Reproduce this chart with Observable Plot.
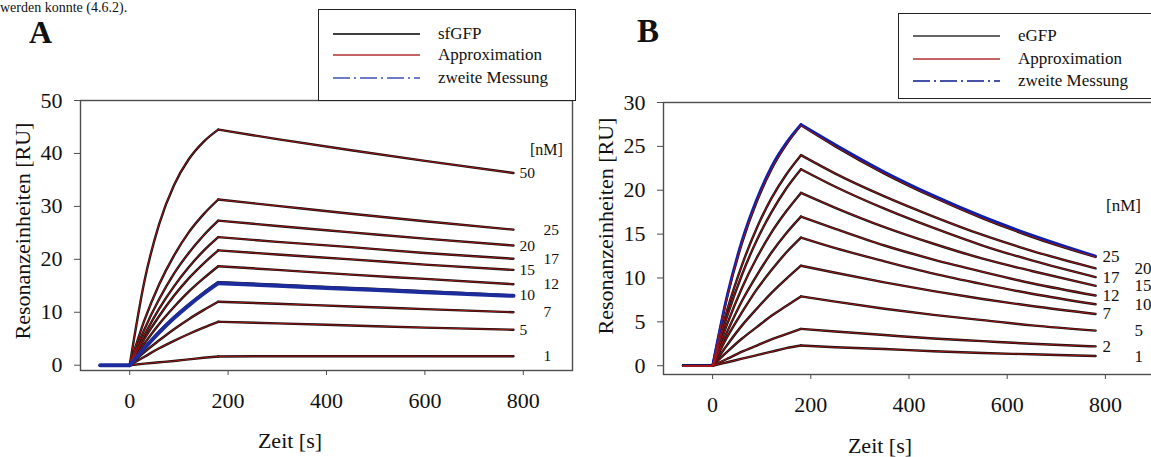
<!DOCTYPE html>
<html><head><meta charset="utf-8">
<script src="https://cdn.jsdelivr.net/npm/d3@7"></script>
<script src="https://cdn.jsdelivr.net/npm/@observablehq/plot@0.6"></script>
<style>
html,body{margin:0;padding:0;background:#fff;overflow:hidden;}
#page{position:relative;width:1151px;height:457px;overflow:hidden;font-family:"Liberation Serif","Times New Roman",serif;color:#111;background:#fff;}
.abs{position:absolute;white-space:nowrap;line-height:1;font-family:"Liberation Serif",serif;font-weight:normal;}
.plot{position:absolute;top:0;}
.legend{position:absolute;background:#fff;border:1px solid #222;box-sizing:border-box;font-family:"Liberation Serif",serif;}
.legend .row{position:absolute;left:0;height:22px;display:flex;align-items:center;font-size:17px;}
.legend svg{position:absolute;left:14px;}
</style></head><body>
<div id="page">
  <div class="abs" style="left:0px;top:1px;font-size:14px;">werden konnte (4.6.2).</div>
  <div class="abs" style="left:29px;top:16px;font-size:32px;font-weight:bold;">A</div>
  <div class="abs" style="left:637px;top:15px;font-size:33px;font-weight:bold;">B</div>
</div>
<script>
// ---------- data ----------
const ticksX = [0, 200, 400, 600, 800];
const ticksYA = [0, 10, 20, 30, 40, 50];
const ticksYB = [0, 5, 10, 15, 20, 25, 30];

// Panel A: sfGFP (time in s, response in RU)
const timesA = [-60, 0, 30, 60, 90, 120, 150, 180, 300, 450, 600, 780];
const concA = ["50", "25", "20", "17", "15", "12", "10", "7", "5", "1"];
const a50 = [0, 0, 15.9, 26.7, 34.0, 38.9, 42.2, 44.5, 42.7, 40.6, 38.6, 36.3];
const a25 = [0, 0, 8.5, 15.3, 20.7, 25.1, 28.5, 31.3, 30.1, 28.6, 27.2, 25.6];
const a20 = [0, 0, 6.8, 12.5, 17.3, 21.2, 24.5, 27.3, 26.3, 25.1, 23.9, 22.6];
const a17 = [0, 0, 5.7, 10.7, 14.9, 18.5, 21.6, 24.2, 23.3, 22.3, 21.2, 20.1];
const a15 = [0, 0, 5.0, 9.3, 13.1, 16.4, 19.2, 21.7, 20.9, 20.0, 19.0, 18.0];
const a12 = [0, 0, 4.1, 7.8, 11.0, 13.9, 16.4, 18.7, 18.0, 17.1, 16.3, 15.3];
const a10 = [0, 0, 3.3, 6.4, 9.1, 11.5, 13.7, 15.7, 15.2, 14.6, 14.0, 13.2];
const a7 = [0, 0, 2.5, 4.7, 6.8, 8.7, 10.4, 12.0, 11.6, 11.1, 10.6, 10.0];
const a5 = [0, 0, 1.6, 3.2, 4.6, 5.9, 7.1, 8.2, 7.9, 7.5, 7.1, 6.7];
const a1 = [0, 0, 0.3, 0.55, 0.8, 1.1, 1.4, 1.65, 1.7, 1.7, 1.7, 1.7];
const zweiteA = [0, 0, 3.2, 6.2, 8.9, 11.3, 13.5, 15.5, 15.0, 14.4, 13.8, 13.1]; // 10 nM repeat

// Panel B: eGFP
const timesB = [-60, 0, 30, 60, 90, 120, 150, 180, 250, 350, 450, 550, 650, 780];
const concB = ["25", "20", "17", "15", "12", "10", "7", "5", "2", "1"];
const b25 = [0, 0, 7.9, 14.0, 18.7, 22.4, 25.2, 27.4, 25.0, 21.9, 19.2, 16.8, 14.7, 12.4];
const b20 = [0, 0, 6.4, 11.5, 15.7, 19.1, 21.8, 24.0, 21.9, 19.3, 17.0, 14.9, 13.1, 11.1];
const b17 = [0, 0, 5.7, 10.4, 14.3, 17.5, 20.2, 22.4, 20.4, 17.9, 15.7, 13.7, 12.0, 10.1];
const b15 = [0, 0, 4.8, 8.9, 12.3, 15.2, 17.6, 19.7, 18.0, 15.8, 13.9, 12.2, 10.8, 9.1];
const b12 = [0, 0, 3.9, 7.4, 10.3, 12.9, 15.1, 17.0, 15.6, 13.7, 12.1, 10.7, 9.4, 8.0];
const b10 = [0, 0, 3.3, 6.1, 8.7, 10.9, 12.9, 14.6, 13.4, 11.9, 10.5, 9.3, 8.2, 7.0];
const b7 = [0, 0, 2.4, 4.6, 6.5, 8.3, 9.9, 11.4, 10.6, 9.5, 8.5, 7.6, 6.8, 5.9];
const b5 = [0, 0, 1.6, 3.1, 4.4, 5.7, 6.8, 7.9, 7.3, 6.5, 5.8, 5.2, 4.6, 4.0];
const b2 = [0, 0, 0.8, 1.6, 2.3, 3.0, 3.6, 4.2, 3.9, 3.5, 3.1, 2.8, 2.5, 2.2];
const b1 = [0, 0, 0.4, 0.8, 1.2, 1.6, 2.0, 2.3, 2.1, 1.9, 1.65, 1.45, 1.3, 1.1];
const zweiteB = [0, 0, 8.1, 14.3, 19.0, 22.7, 25.4, 27.5, 25.2, 22.1, 19.4, 17.0, 14.9, 12.5]; // 25 nM repeat

const legendA = ["sfGFP", "Approximation", "zweite Messung"];
const legendB = ["eGFP", "Approximation", "zweite Messung"];

// ---------- helpers ----------
const injectEnd = 180;
function toRows(times, seriesList, labels) {
  const out = [];
  seriesList.forEach((vals, i) => {
    times.forEach((t, j) => {
      const v = vals[j];
      const phases = t < 0 ? ["base"] : t === 0 ? ["base", "assoc"] : t < injectEnd ? ["assoc"] : t === injectEnd ? ["assoc", "diss"] : ["diss"];
      phases.forEach(p => out.push({t, v, key: labels[i] + "-" + p}));
    });
  });
  return out;
}
function ends(times, seriesList, labels) {
  return seriesList.map((vals, i) => ({t: times[times.length - 1], v: vals[vals.length - 1], c: labels[i], col: i % 2}));
}

const seriesA = [a50, a25, a20, a17, a15, a12, a10, a7, a5, a1];
const seriesB = [b25, b20, b17, b15, b12, b10, b7, b5, b2, b1];
const rowsA = toRows(timesA, seriesA, concA);
const rowsB = toRows(timesB, seriesB, concB);
const blueA = toRows(timesA, [zweiteA], ["z"]);
const blueB = toRows(timesB, [zweiteB], ["z"]);
const endsA = ends(timesA, seriesA, concA);
const endsB = ends(timesB, seriesB, concB);

const BLACK = "#111", RED = "#b01515", BLUE_A = "#1d2c9c", BLUE_B = "#0a1fb0", FRAME = "#4d4d4d";

function panel(o) {
  return Plot.plot({
    width: o.width, height: 457,
    marginLeft: 80, marginRight: o.mr, marginTop: o.mt, marginBottom: o.mb,
    style: {fontFamily: "Liberation Serif, Times New Roman, serif", fontSize: "22px", color: "#111", background: "transparent", overflow: "visible"},
    x: {domain: [-100, 900]},
    y: {domain: o.ydom},
    marks: [
      Plot.frame({stroke: FRAME, strokeWidth: 1.4}),
      Plot.axisX(ticksX, {tickSize: 5, tickPadding: 17, stroke: FRAME, label: null}),
      Plot.axisY(o.yticks, {tickSize: 6, tickPadding: 12, stroke: FRAME, label: null}),
      Plot.line(o.rows, {x: "t", y: "v", z: "key", stroke: BLACK, strokeWidth: 2.4, curve: "monotone-x"}),
      ...(o.blueUnder ? [Plot.line(o.blue, {x: "t", y: "v", z: "key", stroke: o.blueColor, strokeWidth: o.blueWidth, curve: "monotone-x"})] : []),
      Plot.line(o.rows, {x: "t", y: "v", z: "key", stroke: RED, strokeWidth: 0.9, curve: "monotone-x"}),
      ...(!o.blueUnder ? [Plot.line(o.blue, {x: "t", y: "v", z: "key", stroke: o.blueColor, strokeWidth: o.blueWidth, curve: "monotone-x"})] : []),
      Plot.text(o.ends.filter(d => d.col === 0), {x: "t", y: "v", text: "c", dx: o.dx0, textAnchor: "start", fontSize: o.labelSize, fill: "#111"}),
      Plot.text(o.ends.filter(d => d.col === 1), {x: "t", y: "v", text: "c", dx: o.dx1, textAnchor: "start", fontSize: o.labelSize, fill: "#111"})
    ]
  });
}

const page = document.getElementById("page");
const pA = panel({width: 580, mr: 8, mt: 100, mb: 87, ydom: [-1, 50], yticks: ticksYA, rows: rowsA, blue: blueA, blueColor: BLUE_A, blueWidth: 4, blueUnder: false, ends: endsA, dx0: 6, dx1: 30, labelSize: 15.5});
pA.classList.add("plot"); pA.style.left = "0px";
const pB = panel({width: 575, mr: 4, mt: 102, mb: 83, ydom: [-1, 30], yticks: ticksYB, rows: rowsB, blue: blueB, blueColor: BLUE_B, blueWidth: 2.6, blueUnder: true, ends: endsB, dx0: 7, dx1: 39, labelSize: 17});
pB.classList.add("plot"); pB.style.left = "583px";
page.prepend(pB); page.prepend(pA);

function addText(txt, css) {
  const d = document.createElement("div");
  d.className = "abs"; d.textContent = txt; d.style.cssText += css; page.appendChild(d);
}
// axis titles
addText("Resonanzeinheiten [RU]", "left:23px;top:231px;font-size:22px;transform:translate(-50%,-50%) rotate(-90deg);");
addText("Resonanzeinheiten [RU]", "left:606px;top:226px;font-size:22px;transform:translate(-50%,-50%) rotate(-90deg);");
addText("Zeit [s]", "left:290px;top:441px;font-size:22px;transform:translate(-50%,-50%);");
addText("Zeit [s]", "left:880px;top:446px;font-size:22px;transform:translate(-50%,-50%);");
addText("[nM]", "left:530px;top:142px;font-size:16px;");
addText("[nM]", "left:1106px;top:197px;font-size:17px;");

// legends
function legend(labels, css, rowsTop, colors) {
  const box = document.createElement("div");
  box.className = "legend"; box.style.cssText += css;
  labels.forEach((lab, i) => {
    const r = document.createElement("div");
    r.className = "row"; r.style.top = rowsTop[i] + "px"; r.style.width = "100%";
    r.innerHTML = `<svg width="90" height="22"><line x1="0" x2="87" y1="11" y2="11" stroke="${colors[i].c}" stroke-width="${colors[i].w}" ${colors[i].dash ? `stroke-dasharray="${colors[i].dash}"` : ""}/></svg><span style="position:absolute;left:119px;">${lab}</span>`;
    box.appendChild(r);
  });
  page.appendChild(box);
}
legend(legendA, "left:318px;top:9px;width:258px;height:92px;", [13, 34, 57],
  [{c: "#000", w: 1.3}, {c: "#b03030", w: 1.3}, {c: "#4050b8", w: 1.6, dash: "17 4 2 4"}]);
legend(legendB, "left:898px;top:13px;width:270px;height:86px;", [11, 34, 56],
  [{c: "#666", w: 2}, {c: "#b03030", w: 1.3}, {c: "#0a1a8a", w: 1.5, dash: "17 4 2 4"}]);
</script>
</body></html>
